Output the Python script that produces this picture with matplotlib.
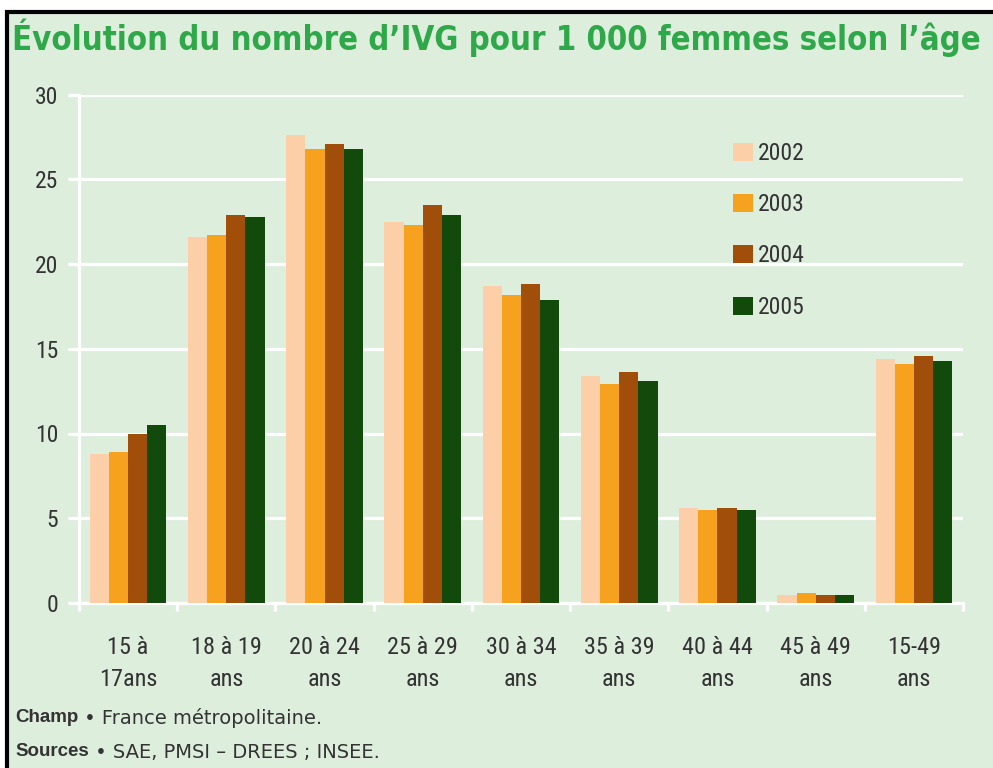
import numpy as np
import matplotlib
matplotlib.use("Agg")
import matplotlib.pyplot as plt
from matplotlib.patches import Rectangle

# data
age_groups = ['15 à\n17ans', '18 à 19\nans', '20 à 24\nans', '25 à 29\nans', '30 à 34\nans',
              '35 à 39\nans', '40 à 44\nans', '45 à 49\nans', '15-49\nans']
years = ['2002', '2003', '2004', '2005']
ivg_2002 = [8.8, 21.6, 27.6, 22.5, 18.7, 13.4, 5.6, 0.5, 14.4]
ivg_2003 = [8.9, 21.7, 26.8, 22.3, 18.2, 12.9, 5.5, 0.6, 14.1]
ivg_2004 = [10.0, 22.9, 27.1, 23.5, 18.8, 13.6, 5.6, 0.5, 14.6]
ivg_2005 = [10.5, 22.8, 26.8, 22.9, 17.9, 13.1, 5.5, 0.5, 14.3]
series = [ivg_2002, ivg_2003, ivg_2004, ivg_2005]
colors = ['#fdcfa8', '#f6a21f', '#a04e0a', '#124a0c']

bg = '#deeedd'
txt = '#333333'
narrow = ['Roboto Condensed', 'DejaVu Sans']
lw = 2.3

fig = plt.figure(figsize=(9.93, 7.68), dpi=100)
fig.patch.set_facecolor('white')
# framed light green panel
fig.add_artist(Rectangle((7 / 993, -0.01), 1.0, (768 - 12) / 768 + 0.01,
                         transform=fig.transFigure, facecolor=bg,
                         edgecolor='black', linewidth=3, zorder=0))

ax = fig.add_axes([79 / 993, (768 - 603) / 768, (963 - 79) / 993, (603 - 94.5) / 768])
ax.set_facecolor('none')

x = np.arange(len(age_groups))
w = 0.195
for k, (vals, c, lab) in enumerate(zip(series, colors, years)):
    ax.bar(x + (k - 1.5) * w, vals, width=w, color=c, label=lab, zorder=3)

ax.set_ylim(0, 30)
ax.set_xlim(-0.5, len(age_groups) - 0.5)
ax.set_yticks(range(0, 31, 5))
ax.yaxis.grid(True, color='white', linewidth=lw, zorder=1)
ax.set_axisbelow(True)

for s in ['top', 'right']:
    ax.spines[s].set_visible(False)
for s in ['left', 'bottom']:
    ax.spines[s].set_color('white')
    ax.spines[s].set_linewidth(lw)

ax.tick_params(axis='y', colors='white', length=8, width=lw, pad=7,
               labelcolor=txt, labelsize=17)
for t in ax.get_yticklabels():
    t.set_family(narrow)

ax.set_xticks(x)
ax.set_xticklabels(age_groups, family=narrow, fontsize=17.5, color=txt, linespacing=1.5)
ax.tick_params(axis='x', length=0, pad=23.5)
ax.set_xticks(np.arange(-0.5, len(age_groups), 1), minor=True)
ax.tick_params(axis='x', which='minor', colors='white', length=6, width=lw, direction='out')

ax.legend(loc='upper left', bbox_to_anchor=(0.74, 0.907), frameon=False,
          prop={'family': narrow, 'size': 17}, labelcolor=txt,
          handlelength=0.85, handleheight=0.8, handletextpad=0.2,
          labelspacing=1.2, borderpad=0, borderaxespad=0)

fig.text(12 / 993, 1 - 38 / 768, 'Évolution du nombre d’IVG pour 1 000 femmes selon l’âge',
         family='DejaVu Sans', fontstretch='condensed', fontsize=23.6, fontweight='bold',
         color='#2fa84a', va='center')

fig.canvas.draw()
renderer = fig.canvas.get_renderer()
for y_px, bold, rest in [(718, 'Champ', ' • France métropolitaine.'),
                         (752, 'Sources', ' • SAE, PMSI – DREES ; INSEE.')]:
    t1 = fig.text(15 / 993, 1 - y_px / 768, bold, family=['Liberation Sans', 'DejaVu Sans'],
                  fontsize=13.5, fontweight='bold', color=txt, va='center')
    bb = t1.get_window_extent(renderer)
    fig.text(bb.x1 / fig.bbox.width, 1 - y_px / 768, rest, family='DejaVu Sans',
             fontsize=14, color=txt, va='center')

fig.savefig('out.png', dpi=100, facecolor=fig.get_facecolor())
